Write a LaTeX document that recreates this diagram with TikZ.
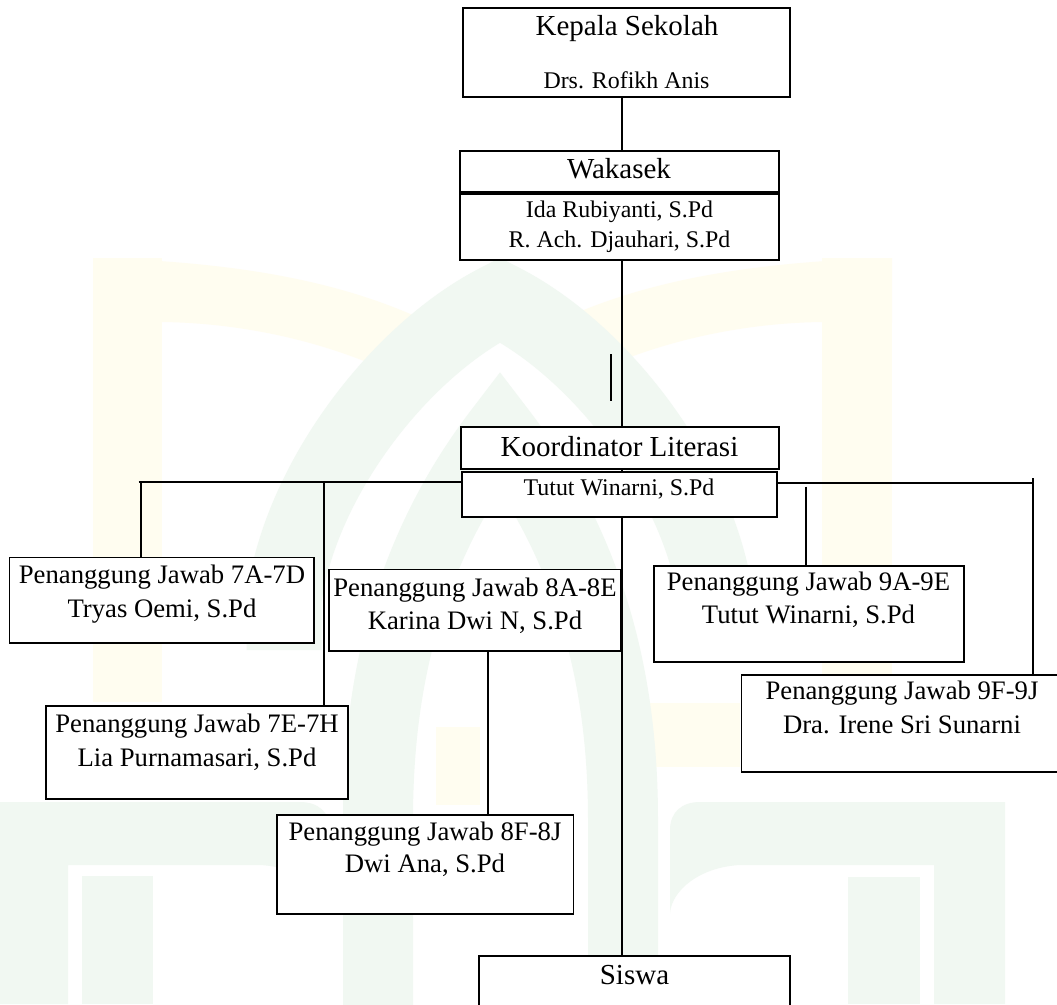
\documentclass[tikz,border=0pt]{standalone}
\usepackage{fontspec}
\setmainfont{Liberation Serif}
\definecolor{wmy}{RGB}{255,253,240}
\definecolor{wmg}{RGB}{241,248,242}
\begin{document}
\begin{tikzpicture}[x=1pt,y=-1pt,
  box/.style={draw=black, line width=1.9pt, fill=white, inner sep=0pt, outer sep=0pt, anchor=north west, rectangle},
  conn/.style={draw=black, line width=2pt},
  big/.style={font=\fontsize{29}{34}\selectfont, anchor=base, inner sep=0pt},
  small/.style={font=\fontsize{23.9}{28}\selectfont, anchor=base, inner sep=0pt},
  mid/.style={font=\fontsize{26.7}{32}\selectfont, anchor=base, inner sep=0pt},
  wmY/.style={fill=wmy, draw=none},
  wmG/.style={fill=wmg, draw=none},
]
\useasboundingbox (0,0) rectangle (1057,1004);
\clip (0,0) rectangle (1057,1004);
\fill[white] (0,0) rectangle (1057,1004);

% ---- faint watermark ----
\fill[wmY] (93,258) rectangle (162,702);
\fill[wmY] (822,258) rectangle (892,702);
\fill[wmY] (93,258) .. controls (250,262) and (350,285) .. (428,322) -- (390,372) .. controls (320,340) and (240,323) .. (162,322) -- (93,322) -- cycle;
\fill[wmY] (892,258) .. controls (735,262) and (635,285) .. (556,322) -- (594,372) .. controls (664,340) and (744,323) .. (822,322) -- (892,322) -- cycle;
\fill[wmY] (643,703) rectangle (740,767);
\fill[wmY] (436,727) rectangle (480,805);
\draw[wmg, line width=70pt] (378,1010) -- (378,820) .. controls (378,700) and (400,560) .. (500,430) .. controls (600,560) and (623,700) .. (623,820) -- (623,1010);
\draw[wmg, line width=75pt] (284,650) -- (284,600) .. controls (300,480) and (400,350) .. (500,300) .. controls (600,350) and (700,480) .. (716,600) -- (716,650);
\fill[wmG] (0,802) -- (300,802) .. controls (318,802) and (330,812) .. (330,830) -- (330,913) .. controls (328,890) and (300,867) .. (260,865) -- (68,865) -- (68,1004) -- (0,1004) -- cycle;
\fill[wmG] (82,876) rectangle (153,1004);
\fill[wmG] (1005,802) -- (700,802) .. controls (682,802) and (670,812) .. (670,830) -- (670,913) .. controls (672,890) and (700,867) .. (740,865) -- (934,865) -- (934,1004) -- (1005,1004) -- cycle;
\fill[wmG] (848,877) rectangle (920,1004);

% ---- boxes ----
\node[box, minimum width=327pt, minimum height=89pt] (kepala) at (463,8) {};
\node[box, minimum width=319pt, minimum height=42pt] (waktop) at (460,151) {};
\node[box, minimum width=319pt, minimum height=67pt] (wakbot) at (460,193) {};
\node[box, minimum width=318pt, minimum height=42pt] (koord) at (461,427) {};
\node[box, minimum width=315pt, minimum height=45pt] (tutut) at (462,472) {};
\node[box, minimum width=304.5pt, minimum height=85.5pt] (p7a) at (9.5,557.5) {};
\node[box, minimum width=292pt, minimum height=81.5pt] (p8a) at (329,569.5) {};
\node[box, minimum width=302pt, minimum height=93pt] (p7e) at (46,706) {};
\node[box, minimum width=296.5pt, minimum height=99pt] (p8f) at (277,815) {};
\node[box, minimum width=310pt, minimum height=96pt] (p9a) at (654,566) {};
\node[box, minimum width=320.5pt, minimum height=97pt] (p9f) at (741.5,675) {};
\node[box, minimum width=311pt, minimum height=60pt] (siswa) at (479,956) {};

\draw[line width=3.2pt] (waktop.south west) -- (waktop.south east);

% ---- texts ----
\node[big] (tk1) at (627,35) {Kepala Sekolah};
\node[small] (tk2) at (626.5,88) {Drs. Rofikh Anis};
\node[big] (tw1) at (619,178) {Wakasek};
\node[small] (tw2) at (619.5,217) {Ida Rubiyanti, S.Pd};
\node[small] (tw3) at (619.5,247) {R. Ach. Djauhari, S.Pd};
\node[big] (tko) at (619.5,456) {Koordinator Literasi};
\node[small] (ttu) at (619,495) {Tutut Winarni, S.Pd};
\node[mid] (t7a1) at (162,583) {Penanggung Jawab 7A-7D};
\node[mid] (t7a2) at (162,617) {Tryas Oemi, S.Pd};
\node[mid] (t8a1) at (475,596) {Penanggung Jawab 8A-8E};
\node[mid] (t8a2) at (475,629) {Karina Dwi N, S.Pd};
\node[mid] (t7e1) at (197,732) {Penanggung Jawab 7E-7H};
\node[mid] (t7e2) at (197,766) {Lia Purnamasari, S.Pd};
\node[mid] (t8f1) at (425,840) {Penanggung Jawab 8F-8J};
\node[mid] (t8f2) at (425,872) {Dwi Ana, S.Pd};
\node[mid] (t9a1) at (808.5,590) {Penanggung Jawab 9A-9E};
\node[mid] (t9a2) at (808.5,623) {Tutut Winarni, S.Pd};
\node[mid] (t9f1) at (902,699) {Penanggung Jawab 9F-9J};
\node[mid] (t9f2) at (902,733) {Dra. Irene Sri Sunarni};
\node[big] (tsi) at (634.5,984.5) {Siswa};

% ---- connectors ----
\coordinate (spine) at (621.5,0);
\coordinate (hl) at (138.6,481.5);
\coordinate (hr) at (1033,483);
\coordinate (x7a) at (140.6,0);
\coordinate (x7e) at (323.5,0);
\coordinate (x8f) at (488,0);
\coordinate (x9at) at (806,486.5);
\coordinate (x9f) at (1033,478);
\coordinate (s1) at (611,354);
\coordinate (s2) at (611,401);

\draw[conn] (kepala.south -| spine) -- (waktop.north -| spine);
\draw[conn] (wakbot.south -| spine) -- (koord.north -| spine);
\draw[conn] (koord.south -| spine) -- (tutut.north -| spine);
\draw[conn] (s1) -- (s2);
\draw[conn] (tutut.south -| spine) -- (siswa.north -| spine);
\draw[conn] (hl) -- (hl -| tutut.west);
\draw[conn] (hl -| x7a) -- (p7a.north -| x7a);
\draw[conn] (hl -| x7e) -- (p7e.north -| x7e);
\draw[conn] (p8a.south -| x8f) -- (p8f.north -| x8f);
\draw[conn] (hr -| tutut.east) -- (hr);
\draw[conn] (x9f) -- (p9f.north -| x9f);
\draw[conn] (x9at) -- (p9a.north -| x9at);
\end{tikzpicture}
\end{document}
